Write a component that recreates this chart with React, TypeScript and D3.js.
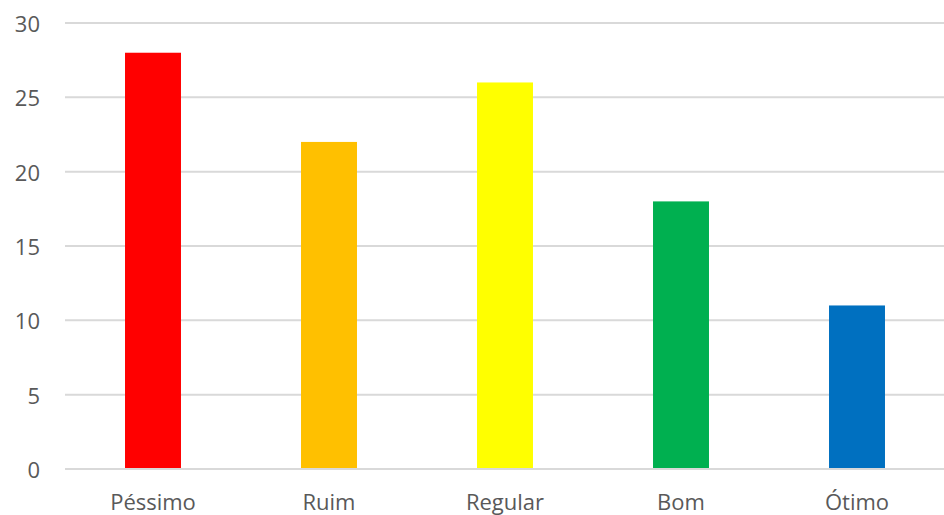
import React from "react";
import * as d3 from "d3";

const categories = ["Péssimo", "Ruim", "Regular", "Bom", "Ótimo"];
const values = [28, 22, 26, 18, 11];
const colors = ["#FF0000", "#FFC000", "#FFFF00", "#00B050", "#0070C0"];
const yTicks = [0, 5, 10, 15, 20, 25, 30];

const W = 944;
const H = 515;
const margin = { left: 65, right: -1, top: 23, bottom: 46 };

export default function App() {
  const x = d3
    .scaleBand<string>()
    .domain(categories)
    .range([margin.left, W - margin.right])
    .paddingInner(0.682)
    .paddingOuter(0.341);
  const y = d3.scaleLinear().domain([0, 30]).range([H - margin.bottom, margin.top]);
  const font = "'Open Sans', sans-serif";
  return (
    <svg width={W} height={H} style={{ position: "absolute", left: 0, top: 0, background: "#fff" }}>
      {yTicks.map((t) => (
        <g key={t}>
          <line x1={margin.left} x2={W} y1={y(t)} y2={y(t)} stroke="#D9D9D9" strokeWidth={2} />
          <text
            x={40}
            y={y(t)}
            textAnchor="end"
            dominantBaseline="central"
            fontFamily={font}
            fontSize={22}
            fill="#595959"
          >
            {t}
          </text>
        </g>
      ))}
      {categories.map((c, i) => (
        <rect
          key={c}
          x={x(c)}
          width={x.bandwidth()}
          y={y(values[i])}
          height={y(0) - y(values[i]) - 1}
          fill={colors[i]}
        />
      ))}
      {categories.map((c) => (
        <text
          key={c}
          x={(x(c) as number) + x.bandwidth() / 2}
          y={510}
          textAnchor="middle"
          fontFamily={font}
          fontSize={22}
          fill="#595959"
        >
          {c}
        </text>
      ))}
    </svg>
  );
}
